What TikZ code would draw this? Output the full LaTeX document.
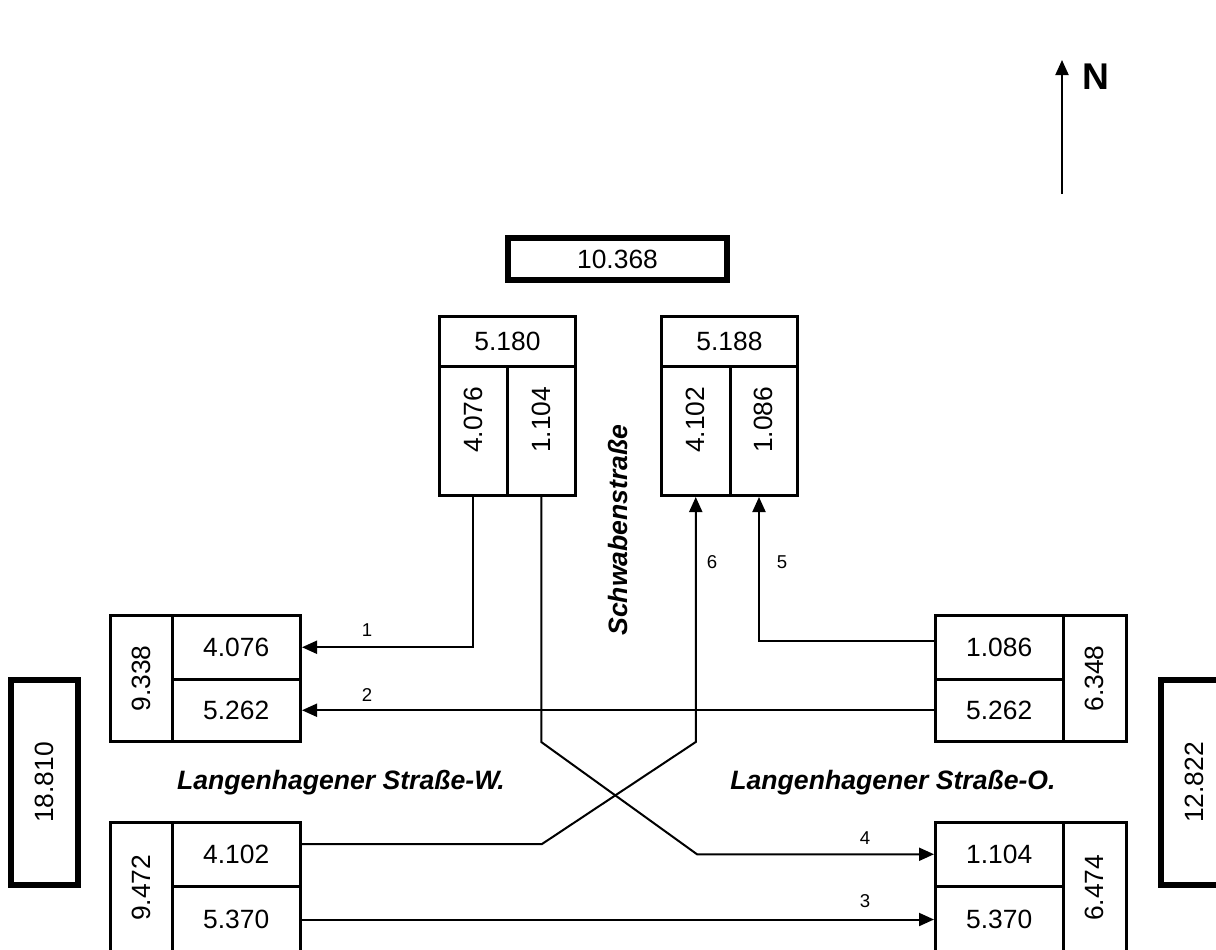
\documentclass[tikz,border=0pt]{standalone}
\usepackage{fontspec}
\setmainfont{Liberation Sans}
\usetikzlibrary{arrows.meta}
\newcommand{\hoch}[1]{\rotatebox{90}{#1}}
\newcommand{\hochauf}[1]{\rotatebox{90}{\hspace{11pt}#1}}

\begin{document}
\begin{tikzpicture}[
    x=0.5pt, y=-0.5pt,
    boxsize/.style 2 args={minimum width=#1*0.5pt, minimum height=#2*0.5pt},
    cell/.style={draw, line width=1.5pt, inner sep=0pt, font=\fontsize{13.2}{15}\selectfont},
    total/.style={cell, line width=3pt},
    flow/.style={line width=1pt, -{Triangle[length=7.5pt, width=6.5pt]}},
    street/.style={font=\fontsize{13.3}{16}\selectfont\bfseries\itshape},
    nr/.style={font=\fontsize{9.3}{11}\selectfont}
]
\useasboundingbox (0,0) rectangle (1216,949);

% Nordarm
\node[total, boxsize={219}{42}] (nordSum) at (617.5,259) {10.368};
\node[cell, boxsize={136}{49.5}] (nordA) at (507.5,341.25) {5.180};
\node[cell, boxsize={67.5}{129.5}] (nordAl) at (473.25,430.75) {\hochauf{4.076}};
\node[cell, boxsize={68.5}{129.5}] (nordAr) at (541.25,430.75) {\hochauf{1.104}};
\node[cell, boxsize={136}{49.5}] (nordB) at (729.5,341.25) {5.188};
\node[cell, boxsize={68.5}{129.5}] (nordBl) at (695.75,430.75) {\hochauf{4.102}};
\node[cell, boxsize={67.5}{129.5}] (nordBr) at (763.75,430.75) {\hochauf{1.086}};

% Westarm
\node[total, boxsize={67}{205}] (westSum) at (44,782.5) {\hoch{18.810}};
\node[cell, boxsize={61.5}{126}] (westA) at (141.25,678.5) {\hoch{9.338}};
\node[cell, boxsize={128.5}{63.5}] (westAo) at (236.25,647.25) {4.076};
\node[cell, boxsize={128.5}{62.5}] (westAu) at (236.25,710.25) {5.262};
\node[cell, boxsize={61.5}{130.5}] (westB) at (141.25,887.75) {\hoch{9.472}};
\node[cell, boxsize={128.5}{63.5}] (westBo) at (236.25,854.25) {4.102};
\node[cell, boxsize={128.5}{67}] (westBu) at (236.25,919.5) {5.370};

% Ostarm
\node[total, boxsize={67}{205}] (ostSum) at (1194.5,782.5) {\hoch{12.822}};
\node[cell, boxsize={63.5}{126}] (ostA) at (1094.75,678.5) {\hoch{6.348}};
\node[cell, boxsize={127.5}{63.5}] (ostAo) at (999.25,647.25) {1.086};
\node[cell, boxsize={127.5}{62.5}] (ostAu) at (999.25,710.25) {5.262};
\node[cell, boxsize={63.5}{130.5}] (ostB) at (1094.75,887.75) {\hoch{6.474}};
\node[cell, boxsize={127.5}{63.5}] (ostBo) at (999.25,854.25) {1.104};
\node[cell, boxsize={127.5}{67}] (ostBu) at (999.25,919.5) {5.370};

% Strassen
\node[street, rotate=90] (schwaben) at (618,530) {Schwabenstraße};
\node[street] (langW) at (341,783) {Langenhagener Straße-W.};
\node[street] (langO) at (893,783) {Langenhagener Straße-O.};

% Stroeme
\coordinate (k4a) at (541.25,742);
\coordinate (k4b) at (697,854.25);
\coordinate (k6a) at (542,844);
\coordinate (k6b) at (695.75,742);
\coordinate (k5) at (759,641);
\draw[flow] (nordAl.south) |- (westAo.east);
\draw[flow] (ostAu.west) -- (westAu.east);
\draw[flow] (westBu.east) -- (ostBu.west);
\draw[flow] (nordAr.south) -- (k4a) -- (k4b) -- (ostBo.west);
\draw[flow] (ostAo.west |- k5) -- (k5) -- (k5 |- nordBr.south);
\draw[flow] (westBo.east |- k6a) -- (k6a) -- (k6b) -- (nordBl.south);

\node[nr] (n1) at (367,630) {1};
\node[nr] (n2) at (367,695) {2};
\node[nr] (n3) at (865,901) {3};
\node[nr] (n4) at (865,838) {4};
\node[nr] (n5) at (782,562) {5};
\node[nr] (n6) at (712,562) {6};

% Nordpfeil
\coordinate (nordFuss) at (1062,194);
\coordinate (nordSpitze) at (1062,60);
\draw[flow] (nordFuss) -- (nordSpitze);
\node[font=\fontsize{18.6}{20}\selectfont\bfseries] (nordN) at (1096,77) {N};
\end{tikzpicture}
\end{document}
